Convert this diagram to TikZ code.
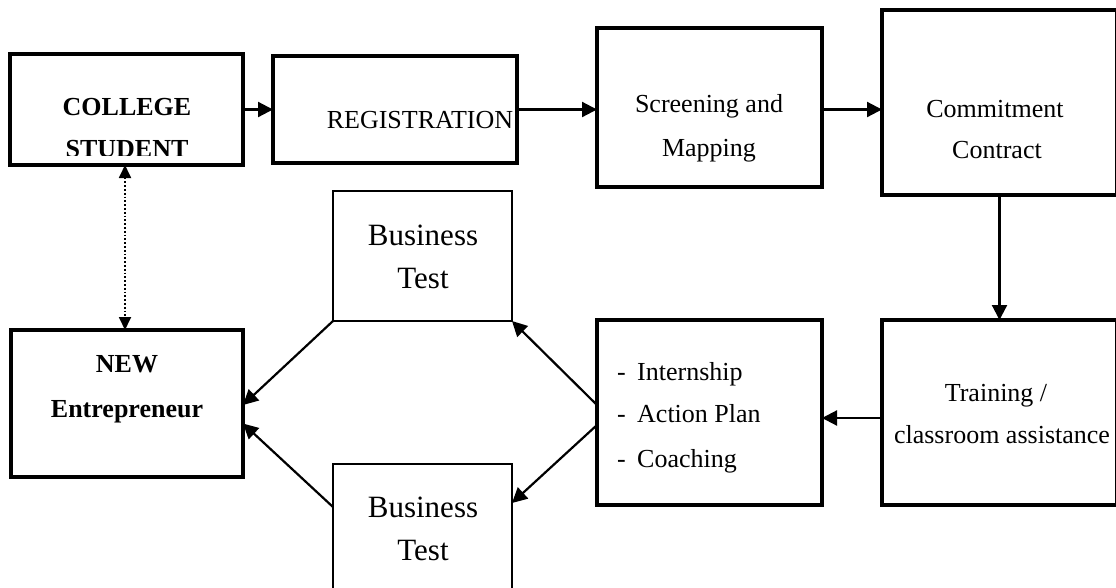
\documentclass[tikz,border=0pt]{standalone}
\usepackage{fontspec}
\setmainfont{Liberation Serif}
\usetikzlibrary{arrows.meta}
\tikzset{
  thickbox/.style={draw, line width=3.5pt, inner sep=0pt, outer sep=0pt, anchor=north west},
  thinbox/.style={draw, line width=1.8pt, inner sep=0pt, outer sep=0pt, anchor=north west},
  conn/.style={line width=2.2pt, -{Triangle[length=15pt,width=15pt]}},
  dotconn/.style={line width=1.8pt, dotted, {Triangle[length=13pt,width=12pt]}-{Triangle[length=13pt,width=12pt]}},
  txt/.style={anchor=base, inner sep=0pt, font=\fontsize{26}{30}\selectfont},
  btxt/.style={anchor=base, inner sep=0pt, font=\fontsize{26}{30}\selectfont\bfseries},
  bigtxt/.style={anchor=base, inner sep=0pt, font=\fontsize{31}{36}\selectfont},
  listtxt/.style={anchor=base west, inner sep=0pt, font=\fontsize{26}{30}\selectfont},
}
\begin{document}
\begin{tikzpicture}[x=1pt,y=-1pt]
\useasboundingbox (0,0) rectangle (1116,587);
\clip (0,0) rectangle (1116,587);
% text of college student, clipped as in the reference
\begin{scope}
\clip (10,54) rectangle (243,155);
\node[btxt] (t-college) at (127,115) {COLLEGE};
\node[btxt] (t-student) at (127,157.5) {STUDENT};
\end{scope}
% boxes
\node[thickbox, minimum width=233pt, minimum height=111pt] (cs) at (10,54) {};
\node[thickbox, minimum width=244pt, minimum height=107pt] (reg) at (273,56) {};
\node[thickbox, minimum width=225pt, minimum height=159pt] (scr) at (597,28) {};
\node[thickbox, minimum width=235pt, minimum height=185pt] (com) at (882,10) {};
\node[thickbox, minimum width=235pt, minimum height=185pt] (tra) at (882,320) {};
\node[thickbox, minimum width=225pt, minimum height=185pt] (int) at (597,320) {};
\node[thickbox, minimum width=232pt, minimum height=147pt] (new) at (11,330) {};
\node[thinbox, minimum width=179pt, minimum height=130pt] (bt1) at (333,191) {};
\node[thinbox, minimum width=179pt, minimum height=140pt] (bt2) at (333,464) {};
% texts
\node[txt] (t-reg) at (420,128) {REGISTRATION};
\node[txt] (t-scr1) at (709,112) {Screening and};
\node[txt] (t-scr2) at (709,156) {Mapping};
\node[txt] (t-com1) at (995,117) {Commitment};
\node[txt] (t-com2) at (997,158) {Contract};
\node[txt] (t-tra1) at (996,401) {Training /};
\node[txt] (t-tra2) at (1002,443) {classroom assistance};
\node[listtxt] (t-int1) at (617,380) {\makebox[20pt][l]{-}Internship};
\node[listtxt] (t-int2) at (617,422) {\makebox[20pt][l]{-}Action Plan};
\node[listtxt] (t-int3) at (617,467) {\makebox[20pt][l]{-}Coaching};
\node[btxt] (t-new1) at (127,372) {NEW};
\node[btxt] (t-new2) at (127,417) {Entrepreneur};
\node[bigtxt] (t-bt1a) at (423,245) {Business};
\node[bigtxt] (t-bt1b) at (423,288) {Test};
\node[bigtxt] (t-bt2a) at (423,517) {Business};
\node[bigtxt] (t-bt2b) at (423,560) {Test};
% connectors
\draw[conn] (cs.east) -- (reg.west);
\draw[conn] (reg.east) -- (reg.east -| scr.west);
\draw[conn] (scr.east |- reg.east) -- (com.west |- reg.east);
\draw[conn] (com.south) -- (tra.north);
\draw[conn] ([yshift=-5.5pt]tra.west) -- ([yshift=-5.5pt]int.west -| int.east);
\draw[conn] ([yshift=7.5pt]int.west) -- (bt1.south east);
\draw[conn] ([yshift=-12.5pt]int.west) -- ([yshift=-39pt]bt2.north east);
\draw[conn] (bt1.south west) -- ([yshift=-1.5pt]new.east);
\draw[conn] ([yshift=-43pt]bt2.north west) -- ([yshift=-20pt]new.east);
\draw[dotconn] (cs.south -| 125,0) -- (new.north -| 125,0);
\end{tikzpicture}
\end{document}
